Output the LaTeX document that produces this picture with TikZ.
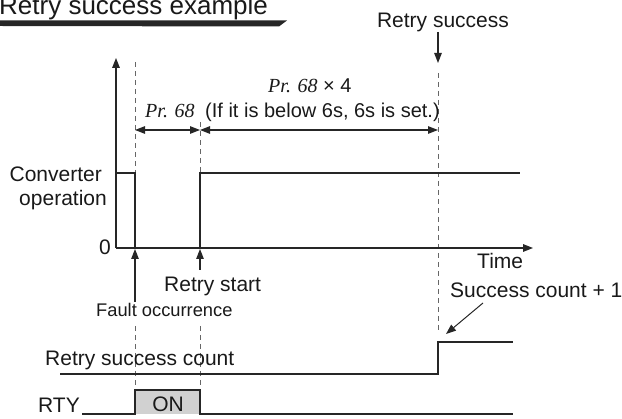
\documentclass[tikz,border=0pt]{standalone}
\usepackage{fontspec}
\setmainfont{Liberation Sans}
\newfontfamily\serifit{Liberation Serif}
\usetikzlibrary{arrows.meta}
\begin{document}
\begin{tikzpicture}[x=1pt,y=-1pt,
  lbl/.style={inner sep=0pt, font=\fontsize{21}{24}\selectfont, text=black!90},
  small/.style={inner sep=0pt, font=\fontsize{18.3}{22}\selectfont, text=black!90},
  dimlbl/.style={inner sep=0pt, font=\fontsize{20}{24}\selectfont, text=black!90},
  sig/.style={line width=1.3pt, black!85},
  axis/.style={line width=1.4pt, black!85},
  dashline/.style={line width=0.9pt, black!60, dash pattern=on 5pt off 4pt},
  tip/.style={-{Triangle[length=10pt,width=7.5pt]}},
  dimarrow/.style={line width=1.1pt, black!85, {Triangle[length=10pt,width=7.5pt]}-{Triangle[length=10pt,width=7.5pt]}}
]
\useasboundingbox (0,0) rectangle (622,419);

% title
\node[inner sep=0pt, anchor=base west, font=\fontsize{26}{30}\selectfont, text=black!90] (title) at (-1,15) {Retry success example};
\fill[black!85] (0,20.5) -- (287,20.5) -- (279,26.5) -- (0,26) -- cycle;

% key coordinates
\coordinate (origin) at (116,248);
\coordinate (ytop) at (116,58);
\coordinate (xend) at (533,248);

% dashed guide lines
\coordinate (d1t) at (135,62);  \coordinate (d1m) at (135,248);
\coordinate (d1l) at (135,326); \coordinate (d1b) at (135,390);
\coordinate (d2t) at (200,122); \coordinate (d2m) at (200,248);
\coordinate (d2l) at (200,326); \coordinate (d2b) at (200,390);
\coordinate (d3t) at (438,73);  \coordinate (d3b) at (438,333);
\draw[dashline] (d1t) -- (d1m);
\draw[dashline] (d1l) -- (d1b);
\draw[dashline] (d2t) -- (d2m);
\draw[dashline] (d2l) -- (d2b);
\draw[dashline] (d3t) -- (d3b);

% axes
\draw[axis,tip] (origin) -- (ytop);
\draw[axis,tip] (origin) -- (xend);

% dimension arrows
\coordinate (m1) at (135,130);
\coordinate (m2) at (200,130);
\coordinate (m3) at (438,130);
\draw[dimarrow] (m1) -- (m2);
\draw[dimarrow] (m2) -- (m3);
\node[dimlbl, anchor=base west] (pr1) at (145,118) {{\serifit\itshape Pr. 68}};
\node[dimlbl, anchor=base west] (cond) at (205,118) {(If it is below 6s, 6s is set.)};
\node[dimlbl, anchor=base west] (pr4) at (268,93) {{\serifit\itshape Pr. 68} × 4};

% retry success label
\node[lbl, anchor=base] (rs) at (443,28) {Retry success};
\coordinate (rsa) at (438,32);
\coordinate (rsb) at (438,63);
\draw[sig,tip] (rsa) -- (rsb);

% converter operation signal
\node[lbl, anchor=base east] (conv) at (102,182) {Converter};
\node[lbl, anchor=base east] (oper) at (107,206) {operation};
\node[lbl, anchor=base east] (zero) at (111,255) {0};
\coordinate (c0) at (116,173);
\coordinate (c1) at (135,173);
\coordinate (c2) at (135,248);
\coordinate (c3) at (200,248);
\coordinate (c4) at (200,173);
\coordinate (c5) at (520,173);
\draw[sig] (c0) -- (c1) -- (c2);
\draw[sig] (c3) -- (c4) -- (c5);

\node[lbl, anchor=base west] (time) at (477,269) {Time};

% event arrows
\coordinate (fa) at (135,302);
\coordinate (fb) at (135,249);
\draw[sig,tip] (fa) -- (fb);
\coordinate (ra) at (200,270);
\coordinate (rb) at (200,249);
\draw[sig,tip] (ra) -- (rb);
\node[lbl, anchor=base west] (rstart) at (164,292) {Retry start};
\node[small, anchor=base west] (fault) at (96,317) {Fault occurrence};

% retry success count
\node[lbl, anchor=base west] (rsc) at (45,366) {Retry success count};
\coordinate (s0) at (60,374);
\coordinate (s1) at (438,374);
\coordinate (s2) at (438,342);
\coordinate (s3) at (513,342);
\draw[sig] (s0) -- (s1) -- (s2) -- (s3);
\node[lbl, anchor=base west] (scp) at (450,298) {Success count + 1};
\coordinate (sa) at (483,303);
\coordinate (sb) at (446,334);
\draw[line width=1pt, black!85, tip] (sa) -- (sb);

% RTY
\node[lbl, anchor=base west] (rty) at (38,413) {RTY};
\coordinate (r0) at (82,414);
\coordinate (r1) at (135,414);
\coordinate (r2) at (135,390);
\coordinate (r3) at (200,390);
\coordinate (r4) at (200,414);
\coordinate (r5) at (513,414);
\fill[black!18] (r1) rectangle (r3);
\draw[sig] (r0) -- (r1) -- (r2) -- (r3) -- (r4) -- (r5);
\node[lbl, anchor=base] (on) at (168,412) {ON};
\end{tikzpicture}
\end{document}
